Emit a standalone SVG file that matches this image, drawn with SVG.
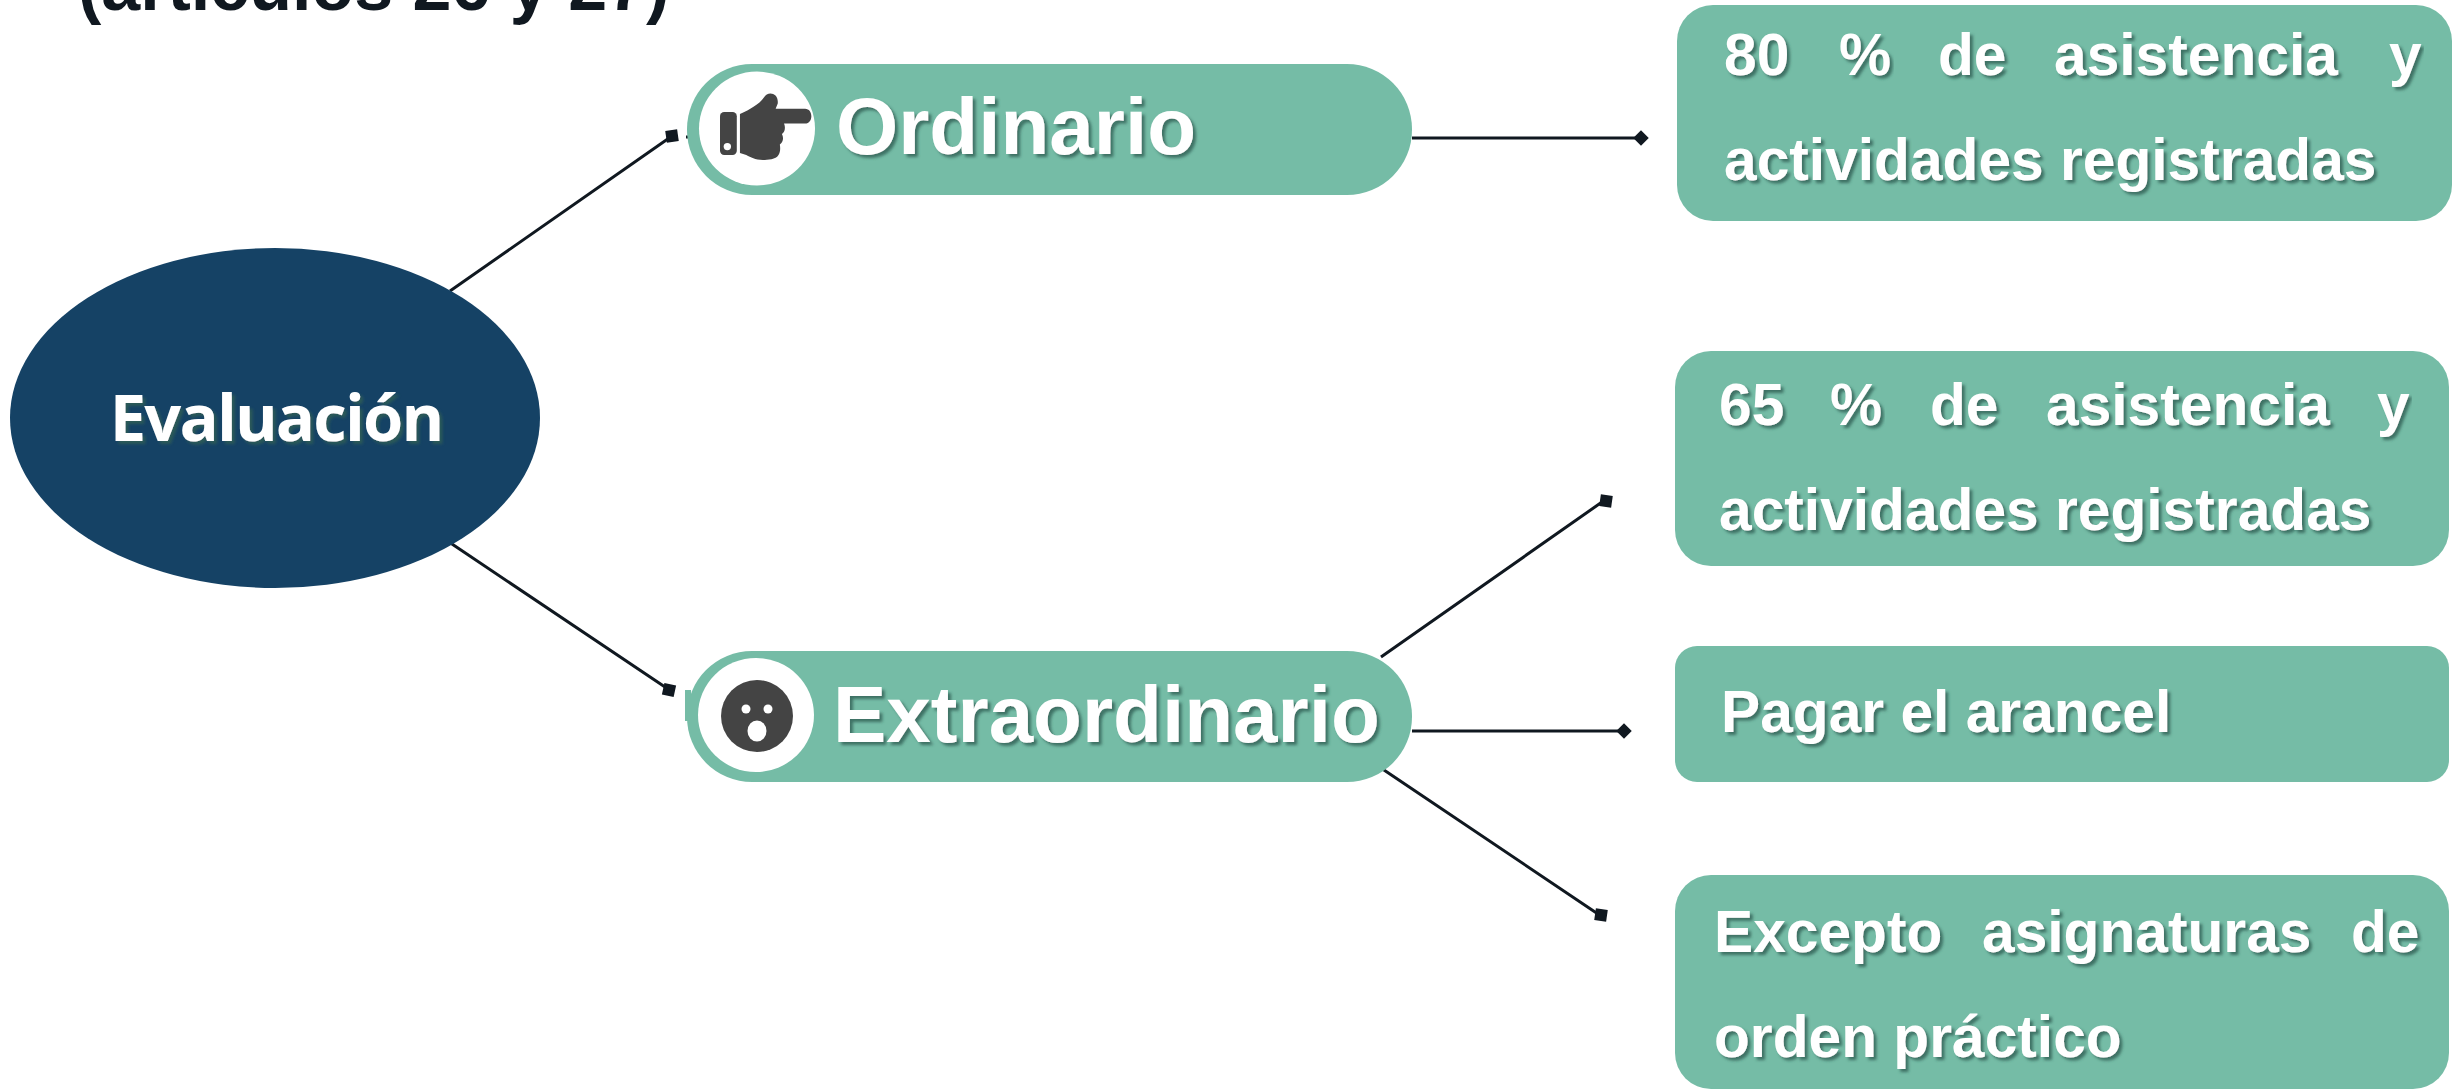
<svg xmlns="http://www.w3.org/2000/svg" width="2458" height="1089" viewBox="0 0 2458 1089">
<style>
text{font-family:"Liberation Sans",Arial,sans-serif;font-weight:700}
.g{fill:#75bca6}
.t{fill:#fff;filter:url(#s)}
.b{font-size:58.700px}
.p{font-size:80px}
.c{stroke:#101820;stroke-width:3;fill:none}
.m{fill:#101820}
.i{fill:#444}
</style>
<defs><filter id="s" x="-5%" y="-10%" width="110%" height="125%"><feDropShadow dx="3" dy="3" stdDeviation="1.6" flood-color="#2f5f52" flood-opacity=".8"/></filter></defs>
<rect width="2458" height="1089" fill="#fff"/>
<g id="title"><text x="78" y="10" font-size="70" fill="#101820">(artículos 26 y 27)</text></g>
<g id="connectors">
<path class="c" d="M450 291L672 136M686 137H688M449 542L668 689M1412 138H1640M1381 657L1602 502M1412 731H1624M1378 766L1598 914"/>
<rect class="m" x="-6" y="-6" width="12" height="12" transform="translate(672 136) rotate(-8)"/>
<rect class="m" x="-6" y="-6" width="12" height="12" transform="translate(669 690) rotate(12)"/>
<rect class="m" x="-6" y="-6" width="12" height="12" transform="translate(1606 501) rotate(8)"/>
<rect class="m" x="-6" y="-6" width="12" height="12" transform="translate(1601 915) rotate(8)"/>
<rect class="m" x="-5.500" y="-5.500" width="11" height="11" transform="translate(1641 138) rotate(45)"/>
<rect class="m" x="-5.500" y="-5.500" width="11" height="11" transform="translate(1624 731) rotate(45)"/>
</g>
<g id="evaluacion"><ellipse cx="275" cy="418" rx="265" ry="170" fill="#154265"/><text class="t" x="276" y="441" text-anchor="middle" font-size="65" letter-spacing="-1.800" style="font-family:'Open Sans','Noto Sans',sans-serif">Evaluación</text></g>
<g id="ordinario"><rect class="g" x="687" y="64" width="725" height="131" rx="65"/><ellipse cx="757" cy="128.500" rx="58" ry="57" fill="#fff"/>
<g transform="translate(5 0) translate(715 92) scale(1.05) translate(-715 -92)"><rect class="i" x="715" y="111" width="16" height="41" rx="4"/><circle cx="722" cy="144" r="3.500" fill="#fff"/>
<path class="i" d="M734 113C744 108 752 104 757 97C760 91 771 92 770 103L768 108H796C804 108 804 122 796 122H776C778 127 776 131 774 132C776 136 775 140 772 142C773 148 772 155 764 156C750 158 746 155 740 152L734 150Z"/></g>
<text class="t p" x="836" y="154">Ordinario</text></g>
<g id="extraordinario"><rect class="g" x="687" y="651" width="725" height="131" rx="65"/><rect class="g" x="685" y="690" width="6" height="31"/><ellipse cx="756" cy="715" rx="58" ry="57" fill="#fff"/>
<ellipse class="i" cx="757" cy="716" rx="36" ry="36"/><circle cx="746" cy="709" r="4.500" fill="#fff"/><circle cx="768" cy="709" r="4.500" fill="#fff"/><ellipse cx="757" cy="731" rx="9.500" ry="10.500" fill="#fff"/>
<text class="t p" x="833" y="742">Extraordinario</text></g>
<g id="box1"><rect class="g" x="1677" y="5" width="775" height="216" rx="36"/>
<text class="t b" x="1724" y="75">80</text><text class="t b" x="1839" y="75">%</text><text class="t b" x="1938" y="75">de</text><text class="t b" x="2054" y="75">asistencia</text><text class="t b" x="2389" y="75">y</text>
<text class="t b" x="1724" y="180">actividades registradas</text></g>
<g id="box2"><rect class="g" x="1675" y="351" width="774" height="215" rx="36"/>
<text class="t b" x="1719" y="425">65</text><text class="t b" x="1830" y="425">%</text><text class="t b" x="1930" y="425">de</text><text class="t b" x="2046" y="425">asistencia</text><text class="t b" x="2377" y="425">y</text>
<text class="t b" x="1719" y="530">actividades registradas</text></g>
<g id="box3"><rect class="g" x="1675" y="646" width="774" height="136" rx="22"/>
<text class="t b" x="1721" y="732">Pagar el arancel</text></g>
<g id="box4"><rect class="g" x="1675" y="875" width="774" height="214" rx="36"/>
<text class="t b" x="1714" y="952">Excepto</text><text class="t b" x="1982" y="952">asignaturas</text><text class="t b" x="2351" y="952">de</text>
<text class="t b" x="1714" y="1057">orden práctico</text></g>
</svg>
